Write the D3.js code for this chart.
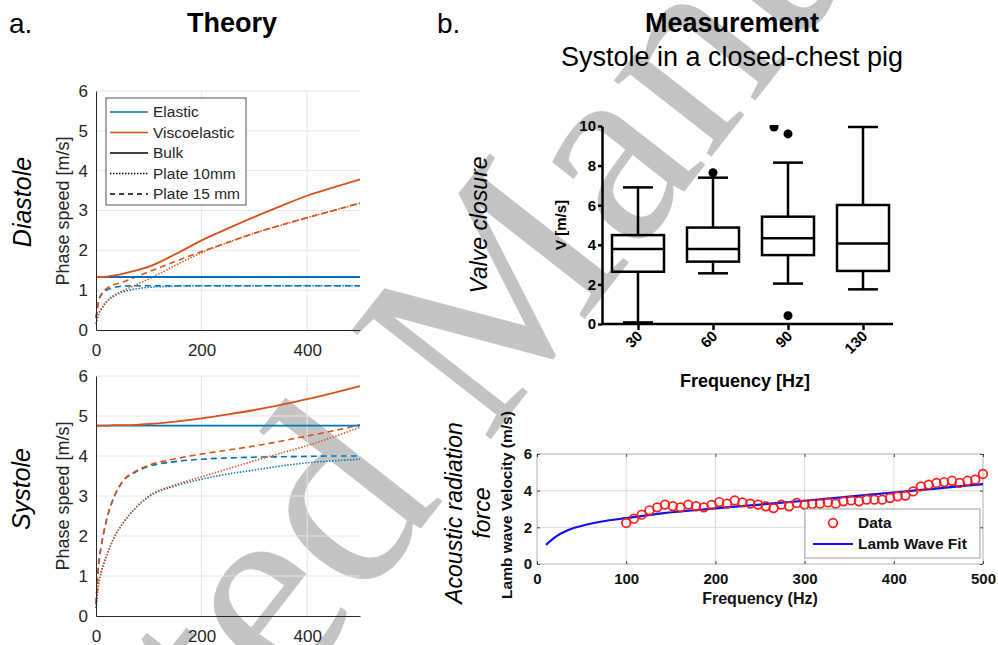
<!DOCTYPE html>
<html>
<head>
<meta charset="utf-8">
<script src="https://cdn.jsdelivr.net/npm/d3@7"></script>
<style>
  body { margin: 0; background: #fff; }
  svg { display: block; font-family: "Liberation Sans", Arial, sans-serif; }
</style>
</head>
<body>
<svg width="998" height="645"></svg>
<script>
// a. theory: phase speed [m/s] against frequency [Hz]
var theoryFreq = [0, 5, 10, 20, 35, 50, 75, 100, 150, 200, 250, 300, 350, 400, 450, 500];

var diaElastic = [1.33, 1.33, 1.33, 1.33, 1.33, 1.33, 1.33, 1.33, 1.33, 1.33, 1.33, 1.33, 1.33, 1.33, 1.33, 1.33];
var diaVisco = [1.33, 1.33, 1.33, 1.34, 1.37, 1.41, 1.49, 1.59, 1.9, 2.25, 2.55, 2.84, 3.11, 3.37, 3.58, 3.78];
var diaPlate10Elastic = [0.15, 0.4, 0.52, 0.7, 0.86, 0.95, 1.03, 1.07, 1.1, 1.11, 1.11, 1.11, 1.11, 1.11, 1.11, 1.11];
var diaPlate15Elastic = [0.3, 0.72, 0.88, 1.0, 1.07, 1.1, 1.11, 1.11, 1.11, 1.11, 1.11, 1.11, 1.11, 1.11, 1.11, 1.11];
var diaPlate10Visco = [0.15, 0.4, 0.53, 0.72, 0.88, 0.98, 1.13, 1.28, 1.62, 1.94, 2.2, 2.43, 2.63, 2.82, 3.0, 3.18];
var diaPlate15Visco = [0.3, 0.73, 0.9, 1.04, 1.14, 1.2, 1.33, 1.46, 1.72, 1.97, 2.2, 2.43, 2.63, 2.82, 3.0, 3.19];

var sysElastic = [4.76, 4.76, 4.76, 4.76, 4.76, 4.76, 4.76, 4.76, 4.76, 4.76, 4.76, 4.76, 4.76, 4.76, 4.76, 4.76];
var sysVisco = [4.76, 4.76, 4.76, 4.76, 4.77, 4.77, 4.78, 4.8, 4.86, 4.94, 5.04, 5.15, 5.28, 5.42, 5.58, 5.75];
var sysPlate10Elastic = [0.2, 0.8, 1.1, 1.5, 1.98, 2.3, 2.7, 2.98, 3.25, 3.42, 3.55, 3.65, 3.75, 3.83, 3.88, 3.92];
var sysPlate15Elastic = [0.3, 1.3, 1.75, 2.4, 3.0, 3.35, 3.6, 3.74, 3.86, 3.92, 3.95, 3.97, 3.98, 3.99, 4.0, 4.0];
var sysPlate10Visco = [0.2, 0.8, 1.1, 1.5, 1.98, 2.3, 2.71, 3.0, 3.28, 3.48, 3.68, 3.88, 4.07, 4.26, 4.48, 4.72];
var sysPlate15Visco = [0.3, 1.3, 1.75, 2.4, 3.0, 3.36, 3.62, 3.77, 3.93, 4.05, 4.15, 4.25, 4.37, 4.5, 4.63, 4.78];

var legendNames = ["Elastic", "Viscoelastic", "Bulk", "Plate 10mm", "Plate 15 mm"];

// b. valve closure box plot, V [m/s]
var boxCats = ["30", "60", "90", "130"];
var boxLow = [0.08, 2.56, 2.04, 1.75];
var boxQ1 = [2.64, 3.15, 3.48, 2.68];
var boxMed = [3.79, 3.79, 4.33, 4.07];
var boxQ3 = [4.49, 4.87, 5.42, 6.01];
var boxHigh = [6.9, 7.39, 8.15, 9.95];
var outlierCat = ["60", "90", "90", "90"];
var outlierVal = [7.64, 9.6, 9.95, 0.42];

// b. acoustic radiation force: lamb wave velocity (m/s)
var arfFreq = [100, 108.7, 117.4, 126.1, 134.8, 143.5, 152.2, 160.9, 169.6, 178.3, 187.0, 195.7,
  204.3, 213.0, 221.7, 230.4, 239.1, 247.8, 256.5, 265.2, 273.9, 282.6, 291.3, 300.0, 308.7,
  317.4, 326.1, 334.8, 343.5, 352.2, 360.9, 369.6, 378.3, 387.0, 395.7, 404.3, 413.0, 421.7,
  430.4, 439.1, 447.8, 456.5, 465.2, 473.9, 482.6, 491.3, 500];
var arfVel = [2.24, 2.47, 2.69, 2.93, 3.09, 3.24, 3.15, 3.09, 3.24, 3.15, 3.09, 3.22,
  3.38, 3.29, 3.47, 3.36, 3.29, 3.24, 3.15, 3.05, 3.24, 3.15, 3.33, 3.24, 3.27,
  3.29, 3.36, 3.29, 3.42, 3.47, 3.42, 3.51, 3.51, 3.51, 3.6, 3.69, 3.73, 3.96,
  4.23, 4.33, 4.42, 4.47, 4.54, 4.42, 4.54, 4.6, 4.91];
var fitFreq = [10, 20, 35, 55, 78, 100, 140, 200, 250, 300, 350, 400, 450, 500];
var fitVel = [1.04, 1.45, 1.85, 2.14, 2.36, 2.5, 2.76, 3.03, 3.24, 3.45, 3.67, 3.9, 4.13, 4.36];

var blue = "#0072BD", orange = "#D95319", ink = "#262626";

var svg = d3.select("svg");

// watermark, drawn first so the charts sit on top
svg.append("text")
  .attr("transform", "translate(530,389) rotate(-52)")
  .attr("text-anchor", "middle")
  .style("font-family", "'Liberation Serif', serif")
  .style("font-size", "270px")
  .style("fill", "#c4c4c4")
  .text("Accepted Manuscript");

function label(x, y, txt, size, opts) {
  opts = opts || {};
  var t = svg.append("text")
    .attr("transform", "translate(" + x + "," + y + ")" + (opts.rotate ? " rotate(-90)" : ""))
    .attr("text-anchor", opts.anchor || "middle")
    .style("font-size", size + "px")
    .style("fill", opts.color || "#000")
    .text(txt);
  if (opts.bold) t.style("font-weight", "bold");
  if (opts.italic) t.style("font-style", "italic");
  return t;
}

// headings
label(9, 33, "a.", 28, {anchor: "start"});
label(232, 32, "Theory", 27, {bold: true});
label(437, 33, "b.", 28, {anchor: "start"});
label(732, 32, "Measurement", 27, {bold: true});
label(732, 66, "Systole in a closed-chest pig", 27);

// ---------- a. theory panels ----------
function theoryPanel(top, bottom, series) {
  var x = d3.scaleLinear().domain([0, 500]).range([96, 360]);
  var y = d3.scaleLinear().domain([0, 6]).range([bottom, top]);
  var g = svg.append("g");

  g.selectAll(".gx").data([200, 400]).enter().append("line")
    .attr("x1", function(d) { return x(d); }).attr("x2", function(d) { return x(d); })
    .attr("y1", y(0)).attr("y2", y(6))
    .style("stroke", "#e6e6e6");
  g.selectAll(".gy").data([1, 2, 3, 4, 5, 6]).enter().append("line")
    .attr("x1", x(0)).attr("x2", x(500))
    .attr("y1", function(d) { return y(d); }).attr("y2", function(d) { return y(d); })
    .style("stroke", "#e6e6e6");

  var line = d3.line()
    .x(function(d, i) { return x(theoryFreq[i]); })
    .y(function(d) { return y(d); })
    .curve(d3.curveMonotoneX);

  g.selectAll(".curve").data(series).enter().append("path")
    .attr("d", function(s) { return line(s.values); })
    .style("fill", "none")
    .style("stroke", function(s) { return s.color; })
    .style("stroke-width", function(s) { return s.dash ? 1.6 : 1.8; })
    .style("stroke-dasharray", function(s) { return s.dash || null; });

  var xAxis = g.append("g").attr("transform", "translate(0," + bottom + ")")
    .call(d3.axisBottom(x).tickValues([0, 200, 400]).tickSize(0).tickPadding(14).tickSizeOuter(0));
  var yAxis = g.append("g").attr("transform", "translate(" + x(0) + ",0)")
    .call(d3.axisLeft(y).ticks(6).tickSize(0).tickPadding(8).tickSizeOuter(0));
  [xAxis, yAxis].forEach(function(a) {
    a.select(".domain").style("stroke", ink);
    a.selectAll("text").style("font-size", "17px").style("fill", ink)
      .style("font-family", "'Liberation Sans', Arial, sans-serif");
  });
  return g;
}

function plateSeries(p10e, p15e, p10v, p15v, bulkE, bulkV) {
  return [
    {values: p10e, color: blue, dash: "1.4,1.6"},
    {values: p15e, color: blue, dash: "6,4"},
    {values: p10v, color: orange, dash: "1.4,1.6"},
    {values: p15v, color: orange, dash: "6,4"},
    {values: bulkE, color: blue},
    {values: bulkV, color: orange}
  ];
}

var topPanel = theoryPanel(91, 330, plateSeries(diaPlate10Elastic, diaPlate15Elastic, diaPlate10Visco, diaPlate15Visco, diaElastic, diaVisco));
theoryPanel(376, 616, plateSeries(sysPlate10Elastic, sysPlate15Elastic, sysPlate10Visco, sysPlate15Visco, sysElastic, sysVisco));

label(69, 211, "Phase speed [m/s]", 18, {rotate: true, color: ink});
label(69, 496, "Phase speed [m/s]", 18, {rotate: true, color: ink});
label(31, 202, "Diastole", 25, {rotate: true, italic: true});
label(30, 489, "Systole", 25, {rotate: true, italic: true});

// legend
var legStyles = [
  {color: blue}, {color: orange}, {color: "#000"},
  {color: "#000", dash: "1.4,1.6"}, {color: "#000", dash: "5,4"}
];
var leg = topPanel.append("g");
leg.append("rect").attr("x", 106).attr("y", 98).attr("width", 140).attr("height", 107)
  .style("fill", "#fff").style("stroke", ink).style("stroke-width", 0.8);
legendNames.forEach(function(name, i) {
  var yy = 112 + i * 20.5;
  leg.append("line").attr("x1", 110).attr("x2", 148).attr("y1", yy).attr("y2", yy)
    .style("stroke", legStyles[i].color).style("stroke-width", 1.6)
    .style("stroke-dasharray", legStyles[i].dash || null);
  leg.append("text").attr("x", 153).attr("y", yy).attr("dy", "0.35em")
    .style("font-size", "15.5px").style("fill", ink).text(name);
});

// ---------- b. valve closure box plot ----------
var bx = d3.scalePoint().domain(boxCats).range([638, 863]);
var by = d3.scaleLinear().domain([0, 10]).range([324, 126]);
var boxW = 52, capW = 30;
var bp = svg.append("g");
svg.append("defs").append("clipPath").attr("id", "boxclip")
  .append("rect").attr("x", 590).attr("y", 125).attr("width", 320).attr("height", 210);
var boxes = bp.append("g").attr("clip-path", "url(#boxclip)");

boxCats.forEach(function(c, i) {
  var cx = bx(c);
  var g = boxes.append("g").style("stroke", "#000").style("stroke-width", 2.5).style("fill", "none");
  g.append("line").attr("x1", cx).attr("x2", cx).attr("y1", by(boxLow[i])).attr("y2", by(boxQ1[i]));
  g.append("line").attr("x1", cx).attr("x2", cx).attr("y1", by(boxQ3[i])).attr("y2", by(boxHigh[i]));
  g.append("line").attr("x1", cx - capW / 2).attr("x2", cx + capW / 2).attr("y1", by(boxLow[i])).attr("y2", by(boxLow[i]));
  g.append("line").attr("x1", cx - capW / 2).attr("x2", cx + capW / 2).attr("y1", by(boxHigh[i])).attr("y2", by(boxHigh[i]));
  g.append("rect").attr("x", cx - boxW / 2).attr("y", by(boxQ3[i]))
    .attr("width", boxW).attr("height", by(boxQ1[i]) - by(boxQ3[i]));
  g.append("line").attr("x1", cx - boxW / 2).attr("x2", cx + boxW / 2).attr("y1", by(boxMed[i])).attr("y2", by(boxMed[i]));
});

// outliers; a second point close to the previous one in the same group is nudged left
outlierVal.forEach(function(v, i) {
  var dx = (i > 0 && outlierCat[i] == outlierCat[i - 1] && Math.abs(v - outlierVal[i - 1]) < 0.5) ? -14 : 0;
  boxes.append("circle").attr("cx", bx(outlierCat[i]) + dx).attr("cy", by(v)).attr("r", 4.5)
    .style("fill", "#000");
});

var byAxis = bp.append("g").attr("transform", "translate(602,0)")
  .call(d3.axisLeft(by).tickValues([0, 2, 4, 6, 8, 10]).tickSize(4).tickPadding(2).tickSizeOuter(0));
var bxAxis = bp.append("g").attr("transform", "translate(0,324)")
  .call(d3.axisBottom(bx).tickSize(6).tickSizeOuter(0));
bxAxis.select(".domain").attr("d", "M602,0H893");
[byAxis, bxAxis].forEach(function(a) {
  a.select(".domain").style("stroke", "#000").style("stroke-width", 2.5);
  a.selectAll(".tick line").style("stroke", "#000").style("stroke-width", 2.5);
  a.selectAll("text").style("font-size", "15px").style("font-weight", "bold").style("fill", "#000")
    .style("font-family", "'Liberation Sans', Arial, sans-serif");
});
bxAxis.selectAll("text")
  .attr("text-anchor", "end").attr("dy", null).attr("y", null)
  .attr("transform", "translate(5,13) rotate(-45)");

label(566, 225, "V [m/s]", 15, {rotate: true, bold: true});
label(745, 387, "Frequency [Hz]", 18, {bold: true});
label(487, 225, "Valve closure", 23, {rotate: true, italic: true});

// ---------- b. acoustic radiation force ----------
var ax = d3.scaleLinear().domain([0, 500]).range([537, 983]);
var ay = d3.scaleLinear().domain([0, 6]).range([564, 454]);
var arf = svg.append("g");
arf.append("rect").attr("x", ax(0)).attr("y", ay(6)).attr("width", ax(500) - ax(0)).attr("height", ay(0) - ay(6))
  .style("fill", "#fff");
arf.selectAll(".gx").data([100, 200, 300, 400]).enter().append("line")
  .attr("x1", function(d) { return ax(d); }).attr("x2", function(d) { return ax(d); })
  .attr("y1", ay(0)).attr("y2", ay(6)).style("stroke", "#dcdcdc");
arf.selectAll(".gy").data([2, 4]).enter().append("line")
  .attr("x1", ax(0)).attr("x2", ax(500))
  .attr("y1", function(d) { return ay(d); }).attr("y2", function(d) { return ay(d); })
  .style("stroke", "#dcdcdc");
arf.append("rect").attr("x", ax(0)).attr("y", ay(6)).attr("width", ax(500) - ax(0)).attr("height", ay(0) - ay(6))
  .style("fill", "none").style("stroke", "#b0b0b0");

arf.append("path")
  .attr("d", d3.line().x(function(d, i) { return ax(fitFreq[i]); }).y(function(d) { return ay(d); })
    .curve(d3.curveMonotoneX)(fitVel))
  .style("fill", "none").style("stroke", "#1010ee").style("stroke-width", 2.2);

arf.selectAll(".pt").data(arfVel).enter().append("circle")
  .attr("cx", function(d, i) { return ax(arfFreq[i]); })
  .attr("cy", function(d) { return ay(d); })
  .attr("r", 4.3)
  .style("fill", "none").style("stroke", "#ff1a1a").style("stroke-width", 1.7);

var fmt = d3.format("d");
var axAxis = arf.append("g").attr("transform", "translate(0," + ay(0) + ")")
  .call(d3.axisBottom(ax).tickValues([0, 100, 200, 300, 400, 500]).tickFormat(fmt)
    .tickSizeInner(-3).tickSizeOuter(0).tickPadding(9));
var ayAxis = arf.append("g").attr("transform", "translate(" + ax(0) + ",0)")
  .call(d3.axisLeft(ay).tickValues([0, 2, 4, 6]).tickFormat(fmt)
    .tickSizeInner(-3).tickSizeOuter(0).tickPadding(5));
var axTop = arf.append("g").attr("transform", "translate(0," + ay(6) + ")")
  .call(d3.axisTop(ax).tickValues([0, 100, 200, 300, 400, 500]).tickSizeInner(-3).tickSizeOuter(0).tickFormat(""));
var ayRight = arf.append("g").attr("transform", "translate(" + ax(500) + ",0)")
  .call(d3.axisRight(ay).tickValues([0, 2, 4, 6]).tickSizeInner(-3).tickSizeOuter(0).tickFormat(""));
[axAxis, ayAxis, axTop, ayRight].forEach(function(a) {
  a.select(".domain").remove();
  a.selectAll(".tick line").style("stroke", "#444");
  a.selectAll("text").style("font-size", "15px").style("font-weight", "bold").style("fill", "#111")
    .style("font-family", "'Liberation Sans', Arial, sans-serif");
});

// legend
var al = arf.append("g");
al.append("rect").attr("x", 805).attr("y", 509).attr("width", 175).attr("height", 49)
  .style("fill", "#fff").style("stroke", "#a0a0a0");
al.append("circle").attr("cx", 833).attr("cy", 523).attr("r", 4.3)
  .style("fill", "none").style("stroke", "#ff1a1a").style("stroke-width", 1.7);
al.append("text").attr("x", 858).attr("y", 523).attr("dy", "0.35em")
  .style("font-size", "15.5px").style("font-weight", "bold").style("fill", "#111").text("Data");
al.append("line").attr("x1", 813).attr("x2", 853).attr("y1", 544).attr("y2", 544)
  .style("stroke", "#1010ee").style("stroke-width", 2.2);
al.append("text").attr("x", 858).attr("y", 544).attr("dy", "0.35em")
  .style("font-size", "15.5px").style("font-weight", "bold").style("fill", "#111").text("Lamb Wave Fit");

label(760, 604, "Frequency (Hz)", 16, {bold: true, color: "#111"});
label(512, 505, "Lamb wave Velocity (m/s)", 15.5, {rotate: true, bold: true, color: "#111"});
label(462, 513, "Acoustic radiation", 23, {rotate: true, italic: true});
label(490, 513, "force", 23, {rotate: true, italic: true});
</script>
</body>
</html>
